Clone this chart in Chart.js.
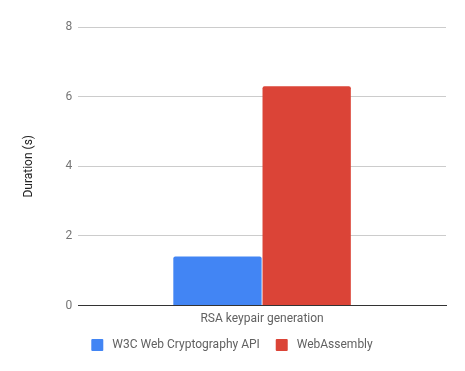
<!DOCTYPE html>
<html>
<head>
<meta charset="utf-8">
<script src="https://cdn.jsdelivr.net/npm/chart.js@4/dist/chart.umd.min.js"></script>
<style>
  html, body { margin: 0; padding: 0; background: #fff; }
  #wrap { width: 465px; height: 371px; }
</style>
</head>
<body>
<div id="wrap"><canvas id="rsaChart"></canvas></div>
<script>
const CATEGORIES = ["RSA keypair generation"];
const W3C_VALUES = [1.41];
const WASM_VALUES = [6.3];
const Y_TICKS = [0, 2, 4, 6, 8];

const FONT = "Roboto, 'Noto Sans', sans-serif";

// legend padding also drives the vertical spacing, so the gap between
// the two entries is widened with a few spaces instead
function legendLabels(chart) {
  const items = Chart.defaults.plugins.legend.labels.generateLabels(chart);
  items.forEach((item, i) => {
    item.text = " " + item.text + (i < items.length - 1 ? "   " : "");
  });
  return items;
}

new Chart(document.getElementById("rsaChart"), {
  type: "bar",
  data: {
    labels: CATEGORIES,
    datasets: [
      {
        label: "W3C Web Cryptography API",
        data: W3C_VALUES,
        backgroundColor: "#4285f4",
        borderRadius: { topLeft: 2, topRight: 2 },
        borderSkipped: "bottom",
      },
      {
        label: "WebAssembly",
        data: WASM_VALUES,
        backgroundColor: "#db4437",
        borderRadius: { topLeft: 2, topRight: 2 },
        borderSkipped: "bottom",
      },
    ],
  },
  options: {
    responsive: true,
    maintainAspectRatio: false,
    animation: false,
    layout: { padding: { top: 27, right: 19, left: 18, bottom: 10 } },
    datasets: {
      bar: { categoryPercentage: 0.485, barPercentage: 0.99 },
    },
    plugins: {
      tooltip: { enabled: false },
      legend: {
        position: "bottom",
        align: "center",
        labels: {
          boxWidth: 12,
          boxHeight: 12,
          padding: 7,
          color: "#616161",
          font: { family: FONT, size: 12 },
          useBorderRadius: true,
          borderRadius: 1,
          generateLabels: legendLabels,
        },
      },
    },
    scales: {
      x: {
        grid: { display: false, drawTicks: false },
        border: { display: true, color: "#333333", width: 1 },
        ticks: {
          color: "#616161",
          font: { family: FONT, size: 12 },
          padding: 6,
        },
      },
      y: {
        min: 0,
        max: 8,
        afterBuildTicks: (axis) => {
          axis.ticks = Y_TICKS.map((v) => ({ value: v }));
        },
        grid: { color: "#cccccc", drawTicks: false },
        border: { display: false },
        ticks: {
          color: "#757575",
          font: { family: FONT, size: 12 },
          padding: 6,
        },
        title: {
          display: true,
          text: "Duration (s)",
          color: "#222222",
          font: { family: FONT, size: 12 },
          padding: { bottom: 23 },
        },
      },
    },
  },
});
</script>
</body>
</html>
